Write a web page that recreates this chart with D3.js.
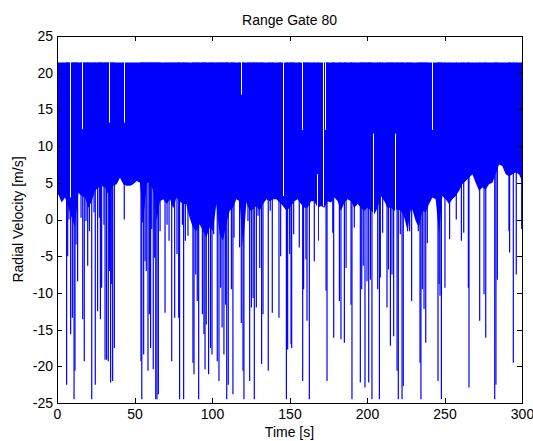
<!DOCTYPE html>
<html>
<head>
<meta charset="utf-8">
<script src="https://cdn.jsdelivr.net/npm/d3@7"></script>
<style>
  body { margin: 0; background: #fff; }
  text { font-family: "Liberation Sans", Arial, sans-serif; fill: #000; }
  .axis path, .axis line { stroke: #000; shape-rendering: crispEdges; }
</style>
</head>
<body>
<div id="rangeGateGraph"></div>
<script>
// lower edge of the solid band (time s, velocity m/s)
var envTime = [0, 0.9, 3.0, 5.2, 7.3, 9.5, 11.6, 13.8, 15.9, 18.1, 20.2, 22.4, 24.5, 26.7, 28.8, 31.0, 33.1, 36.3, 38.5, 40.6,
  42.8, 44.9, 47.1, 49.2, 51.4, 53.5, 55.7, 57.9, 60.0, 62.1, 64.3, 66.4, 68.6, 70.7, 72.9, 75.0, 77.0, 79.1, 81.3, 83.4,
  85.6, 87.7, 89.9, 92.0, 94.2, 96.3, 98.5, 100.6, 102.8, 104.9, 107.1, 109.2, 111.4, 113.5, 115.7, 117.8, 120.0, 122.2, 124.3, 126.5,
  128.6, 130.8, 132.9, 135.1, 137.2, 139.4, 141.5, 143.7, 145.8, 148.0, 150.1, 153.1, 155.3, 157.4, 159.6, 161.7, 163.9, 166.0, 168.2, 170.3,
  172.5, 174.6, 176.8, 179.0, 181.1, 183.2, 185.4, 187.5, 189.7, 191.8, 194.0, 196.1, 198.3, 200.4, 202.6, 204.7, 206.9, 209.0, 211.2, 213.3,
  215.5, 217.6, 219.8, 221.9, 224.1, 226.2, 228.0, 229.2, 231.4, 233.5, 235.7, 237.9, 240.0, 242.2, 244.3, 246.5, 248.6, 250.8, 252.9, 255.1,
  257.2, 259.4, 261.5, 263.7, 265.8, 268.0, 270.1, 272.3, 274.4, 276.6, 278.7, 280.9, 283.0, 285.2, 287.3, 289.5, 291.6, 293.8, 296.0, 298.1, 300];
var envVelocity = [3.0, 3.4, 2.3, 3.0, 1.6, 0.25, -1.1, 3.65, 3.2, 3.0, 1.6, 2.5, 3.9, 4.35, 4.6, 4.35, 3.4, 4.6, 4.8, 5.7,
  4.8, 4.6, 4.6, 4.8, 5.25, 5.0, -0.2, 5.0, 5.0, 3.9, -0.2, 2.5, 2.75, 2.1, 2.75, 1.5, 3.0, 2.5, 2.1, 2.1,
  0.25, -1.1, -1.57, -0.66, -1.57, -2.5, -1.1, -1.57, 2.1, -2.0, -2.9, -0.66, 1.2, 1.6, 2.75, 2.5, -3.8, 2.3, 1.2, 1.4,
  1.85, 1.2, 2.1, 2.75, 2.5, 2.75, 2.75, 2.3, 1.85, 1.2, 1.6, 2.5, 2.75, 2.1, 1.6, 1.6, 2.5, 2.5, 1.6, 1.85,
  1.6, 2.5, 2.3, 3.0, 2.5, 1.2, 2.3, 2.75, 2.5, 1.6, 2.1, 1.6, 1.2, 1.6, 1.2, 0.7, 1.6, 3.2, 2.5, 1.6,
  1.6, 1.2, 1.4, 1.2, 0.25, -1.57, 1.2, 1.4, -0.2, -1.1, 1.2, 0.95, 2.1, 3.0, 2.75, -2.0, 3.2, 2.75, 2.1, 2.75,
  3.2, 3.9, 4.8, 5.25, 5.7, 6.15, 5.0, 3.9, 4.35, 4.1, 4.8, 5.0, 6.15, 7.5, 7.3, 6.15, 5.9, 6.15, 6.4, 6.15, 5.25];

// downward spikes (time s, lowest velocity m/s)
var spikeTime = [0.2, 6.2, 6.9, 7.7, 8.8, 9.9, 11.0, 11.6, 12.3, 13.3, 15.5, 16.6, 17.6, 18.7, 19.8, 20.9, 22.4, 23.9, 24.7, 26.2,
  27.3, 28.0, 28.8, 30.3, 31.0, 32.0, 33.1, 33.8, 34.6, 35.3, 35.9, 37.0, 43.4, 54.2, 54.7, 55.1, 55.9, 56.8, 57.6, 58.7,
  59.6, 60.4, 61.1, 62.1, 63.0, 63.7, 64.5, 65.4, 66.5, 69.7, 71.0, 72.3, 74.0, 75.9, 77.4, 78.5, 79.1, 80.9, 81.7, 82.8,
  84.5, 87.7, 88.4, 89.5, 90.5, 91.4, 93.8, 94.8, 95.5, 96.3, 97.8, 99.1, 100.0, 101.1, 103.4, 104.5, 105.6, 106.5, 107.7, 108.8,
  109.5, 110.5, 112.5, 113.5, 114.2, 117.8, 118.9, 120.0, 120.6, 123.2, 124.3, 125.4, 126.5, 127.3, 128.6, 129.7, 130.8, 132.0, 132.9, 136.3,
  137.6, 138.9, 143.2, 144.3, 148.0, 148.8, 150.1, 151.0, 151.4, 152.7, 156.3, 158.5, 159.1, 160.6, 161.3, 162.8, 166.0, 168.6, 173.6, 174.2,
  177.9, 178.5, 182.2, 183.2, 185.4, 186.5, 189.7, 190.3, 191.8, 195.7, 196.6, 197.6, 198.7, 200.0, 201.1, 202.2, 203.2, 206.9, 208.0, 208.6,
  210.1, 212.9, 213.8, 215.1, 216.1, 217.2, 219.4, 220.2, 221.5, 222.6, 223.4, 226.2, 227.5, 228.8, 233.1, 234.2, 234.8, 235.7, 236.8, 237.9,
  238.9, 245.8, 246.5, 247.1, 248.0, 250.3, 253.3, 257.6, 260.9, 262.4, 265.4, 265.8, 272.7, 275.5, 276.6, 282.4, 283.2, 284.1, 291.6, 292.0,
  294.4, 296.3, 299.8];
var spikeVelocity = [-14.0, -22.5, -5.0, 0.0, -15.6, -13.4, -24.5, -20.6, -3.4, -8.4, 0.25, -13.6, -19.3, -0.2, -6.3, -1.6, -24.5, 1.0, -22.5, -12.5,
  0.25, -13.6, -9.3, -0.7, -19.1, -19.1, -19.3, -7.0, -22.2, -8.8, -22.0, -17.5, 0.0, -19.3, -24.5, -0.4, -18.4, -5.7, -7.0, -20.6,
  -12.9, -17.5, -1.3, -20.4, -5.2, -24.5, -24.5, -23.8, -1.6, -12.7, -0.7, -2.9, -19.3, -13.4, -4.7, -13.4, -24.5, -0.7, -24.5, -2.9,
  -2.2, -19.5, -21.1, -7.5, -11.1, -24.5, -12.9, -15.6, -20.4, -14.3, -21.1, -17.5, -18.4, -2.0, -19.3, -22.0, -9.3, -14.7, -18.4, -11.6,
  -24.5, -22.5, -9.5, -23.8, -2.5, -3.8, -14.1, -20.6, -24.5, -0.2, -22.0, -12.0, -10.7, -24.5, -12.0, 0.5, -6.6, -19.7, -12.9, -20.6,
  1.2, -12.7, -13.4, -5.0, -24.5, -17.7, -4.7, -17.0, -17.5, -2.0, -3.8, -22.0, -9.5, -5.4, -13.8, -24.5, -5.7, -2.9, -9.7, -22.0,
  -1.8, -16.1, -11.1, -16.3, -16.8, -6.6, -11.6, -24.5, -1.1, -22.2, -9.5, -6.3, -22.9, -8.4, -22.2, -8.2, -24.5, -9.5, -24.5, -7.9,
  -1.8, -12.0, -6.8, -17.2, -7.5, -15.9, -20.6, -24.5, -2.0, -24.5, -22.7, -1.6, -1.6, -11.1, -1.6, -19.5, -24.5, -9.5, -12.2, -16.8,
  -3.2, -22.0, -8.8, -10.4, -24.5, -9.3, -2.7, 0.0, -2.9, -1.8, -9.3, -22.9, -13.8, -10.2, -16.1, -24.5, -22.5, -8.2, -1.6, -4.5,
  -19.5, -7.5, -1.3];

// white gaps hanging from the top (time s, velocity m/s where the gap ends)
var gapTime = [8.2, 15.9, 33.7, 43.4, 118.7, 146.0, 157.9, 171.8, 172.9, 241.7];
var gapVelocity = [3.0, 12.3, 13.2, 13.2, 17.0, 3.2, 12.2, 1.8, 12.2, 12.2];

// white notches rising from below (time s, velocity m/s reached)
var notchTime = [167.5, 204.1, 218.1];
var notchVelocity = [6.2, 11.7, 11.7];

var topVelocity = 21.4;
var xTickValues = [0, 50, 100, 150, 200, 250, 300];
var yTickValues = [-25, -20, -15, -10, -5, 0, 5, 10, 15, 20, 25];

var graphMargin = { top: 36, right: 11, bottom: 38, left: 57 },
  graphWidth = 533 - graphMargin.left - graphMargin.right,
  graphHeight = 441 - graphMargin.top - graphMargin.bottom;

var timeScale = d3.scaleLinear().domain([0, 300]).range([0, graphWidth]);
var velocityScale = d3.scaleLinear().domain([-25, 25]).range([graphHeight, 0]);

var svg = d3.select("#rangeGateGraph").append("svg")
  .attr("width", 533)
  .attr("height", 441);

var plot = svg.append("g")
  .attr("transform", "translate(" + graphMargin.left + "," + graphMargin.top + ")");

plot.append("clipPath").attr("id", "plotClip")
  .append("rect").attr("width", graphWidth).attr("height", graphHeight);

var plotBody = plot.append("g").attr("clip-path", "url(#plotClip)");

// solid band between the lower edge and the top value
var envelopeData = envTime.map(function (t, i) { return { time: t, velocity: envVelocity[i] }; });

var envelopeArea = d3.area()
  .x(function (d) { return timeScale(d.time); })
  .y0(function (d) { return velocityScale(d.velocity); })
  .y1(function () { return velocityScale(topVelocity); });

plotBody.append("path")
  .attr("d", envelopeArea(envelopeData))
  .attr("fill", "#0000ff");

// spikes
var spikeData = spikeTime.map(function (t, i) { return { time: t, velocity: spikeVelocity[i] }; });

plotBody.selectAll(".spike")
  .data(spikeData)
  .enter().append("line")
  .attr("class", "spike")
  .attr("x1", function (d) { return timeScale(d.time); })
  .attr("x2", function (d) { return timeScale(d.time); })
  .attr("y1", velocityScale(topVelocity))
  .attr("y2", function (d) { return velocityScale(d.velocity); })
  .attr("stroke", "#0000ff")
  .attr("stroke-width", 1.2);

// gaps at the top
var gapData = gapTime.map(function (t, i) { return { time: t, velocity: gapVelocity[i] }; });

plotBody.selectAll(".gap")
  .data(gapData)
  .enter().append("line")
  .attr("class", "gap")
  .attr("x1", function (d) { return Math.round(timeScale(d.time)) + 0.5; })
  .attr("x2", function (d) { return Math.round(timeScale(d.time)) + 0.5; })
  .attr("y1", velocityScale(topVelocity) - 1)
  .attr("y2", function (d) { return velocityScale(d.velocity); })
  .attr("stroke", "#fff")
  .attr("stroke-width", 1);

// notches from below, running down to the bottom of the axes
var notchData = notchTime.map(function (t, i) { return { time: t, velocity: notchVelocity[i] }; });

plotBody.selectAll(".notch")
  .data(notchData)
  .enter().append("line")
  .attr("class", "notch")
  .attr("x1", function (d) { return Math.round(timeScale(d.time)) + 0.5; })
  .attr("x2", function (d) { return Math.round(timeScale(d.time)) + 0.5; })
  .attr("y1", function (d) { return velocityScale(d.velocity); })
  .attr("y2", graphHeight)
  .attr("stroke", "#fff")
  .attr("stroke-width", 1);

// Define the axes (ticks point inwards, like matlab)
function plainNumber(d) { return String(d); }

var xAxisBottom = d3.axisBottom(timeScale).tickValues(xTickValues).tickSizeInner(-5).tickSizeOuter(0).tickPadding(6).tickFormat(plainNumber);
var xAxisTop = d3.axisTop(timeScale).tickValues(xTickValues).tickSizeInner(-5).tickSizeOuter(0).tickFormat("");
var yAxisLeft = d3.axisLeft(velocityScale).tickValues(yTickValues).tickSizeInner(-5).tickSizeOuter(0).tickPadding(4).tickFormat(plainNumber);
var yAxisRight = d3.axisRight(velocityScale).tickValues(yTickValues).tickSizeInner(-5).tickSizeOuter(0).tickFormat("");

plot.append("g").attr("class", "axis")
  .attr("transform", "translate(0," + graphHeight + ")")
  .call(xAxisBottom);
plot.append("g").attr("class", "axis").call(xAxisTop);
plot.append("g").attr("class", "axis").call(yAxisLeft);
plot.append("g").attr("class", "axis")
  .attr("transform", "translate(" + graphWidth + ",0)")
  .call(yAxisRight);

plot.selectAll(".axis text").style("font-size", "14px");

// Titles
svg.append("text")
  .attr("x", graphMargin.left + graphWidth / 2)
  .attr("y", 25)
  .attr("text-anchor", "middle")
  .style("font-size", "14px")
  .text("Range Gate 80");

svg.append("text")
  .attr("x", graphMargin.left + graphWidth / 2)
  .attr("y", 437)
  .attr("text-anchor", "middle")
  .style("font-size", "14px")
  .text("Time [s]");

svg.append("text")
  .attr("transform", "rotate(-90)")
  .attr("x", -(graphMargin.top + graphHeight / 2))
  .attr("y", 23)
  .attr("text-anchor", "middle")
  .style("font-size", "14px")
  .text("Radial Velocity [m/s]");
</script>
</body>
</html>
